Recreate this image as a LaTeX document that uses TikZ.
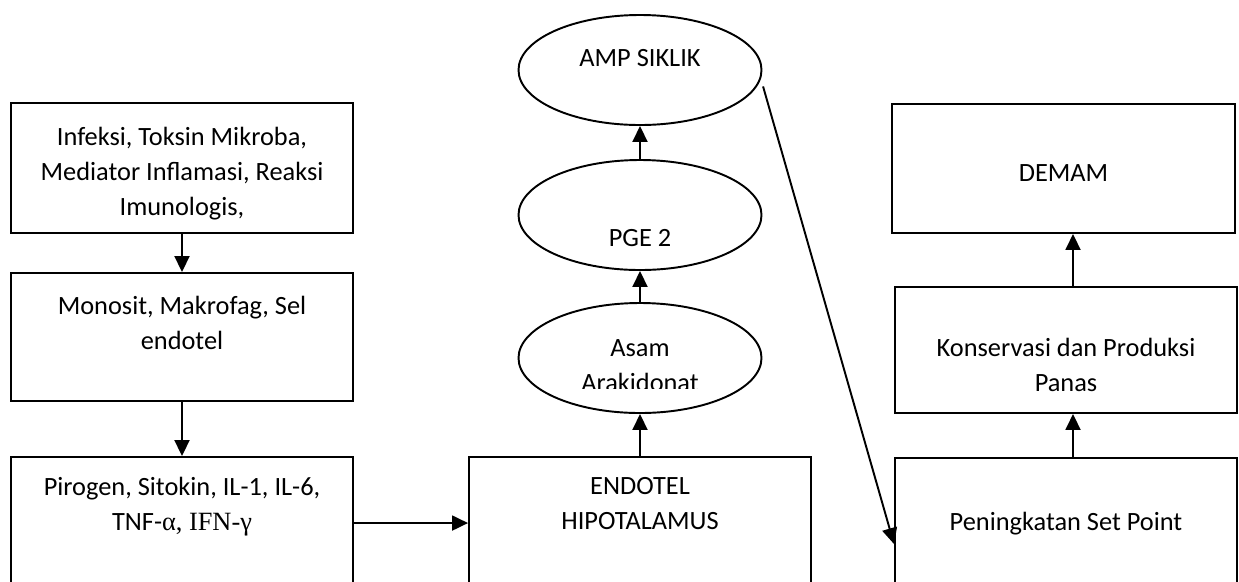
\documentclass[tikz,border=0pt]{standalone}
\usepackage{fontspec}
\setmainfont{Carlito}
\newfontfamily\greekserif{Liberation Serif}
\usetikzlibrary{arrows.meta,shapes.geometric}

\begin{document}
\begin{tikzpicture}[
        box/.style={draw, line width=1.1pt, inner sep=0pt, minimum width=6.84cm, align=center, font=\fontsize{15pt}{19.9pt}\selectfont},
        oval/.style={draw, ellipse, line width=1.1pt, inner sep=0pt, minimum width=4.86cm, minimum height=2.2cm, align=center, font=\fontsize{15pt}{19.9pt}\selectfont},
        flow/.style={-{Triangle[length=3.2mm, width=3mm]}, line width=1.1pt}
    ]
        \useasboundingbox (0,0) rectangle (24.78,-11.62);

        \node[box, text height=2.254cm, text depth=0.346cm] (infeksi) at (3.64,-3.36) {Infeksi, Toksin Mikroba,\\Mediator Inflamasi, Reaksi\\Imunologis,};
        \node[box, text height=1.534cm, text depth=1.026cm] (monosit) at (3.64,-6.74) {Monosit, Makrofag, Sel\\endotel};
        \node[box, text height=1.46cm, text depth=1.62cm] (pirogen) at (3.64,-10.68) {Pirogen, Sitokin, IL-1, IL-6,\\TNF-{\greekserif α, IFN-γ}};

        \node[box, text height=1.44cm, text depth=1.64cm] (endotel) at (12.8,-10.68) {ENDOTEL\\HIPOTALAMUS};
        \node[oval] (asam) at (12.8,-7.16) {};
        \node[oval, text height=1.3cm, text depth=0.06cm] (pge) at (12.8,-4.3) {PGE 2};
        \node[oval, text height=0.2cm, text depth=0.332cm] (amp) at (12.8,-1.4) {AMP SIKLIK};
        \begin{scope}
            \clip (10.4,-6.0) rectangle (15.2,-7.766);
            \node[box, draw=none, minimum width=0pt, anchor=base] (asamtext) at (12.8,-7.834) {Asam\\Arakidonat};
        \end{scope}

        \node[box, minimum width=6.86cm, text height=1.554cm, text depth=1.026cm] (demam) at (21.27,-3.37) {DEMAM};
        \node[box, text height=2.08cm, text depth=0.44cm] (konserv) at (21.32,-7.0) {Konservasi dan Produksi\\Panas};
        \node[box, text height=1.44cm, text depth=1.62cm] (pening) at (21.32,-10.69) {Peningkatan Set Point};

        \draw[flow] (infeksi.south) -- (monosit.north);
        \draw[flow] (monosit.south) -- (pirogen.north);
        \draw[flow] ([yshift=-1.34cm]pirogen.north east) -- ([yshift=-1.34cm]endotel.north west);
        \draw[flow] (endotel.north) -- (asam.south);
        \draw[flow] (asam.north) -- (pge.south);
        \draw[flow] (pge.north) -- (amp.south);
        \draw[flow] ([xshift=0.12cm]amp.-8) -- ([yshift=-1.74cm]pening.north west);
        \draw[flow] ([xshift=0.14cm]pening.north) -- ([xshift=0.14cm]konserv.south);
        \draw[flow] ([xshift=0.14cm]konserv.north) -- ([xshift=0.19cm]demam.south);
    \end{tikzpicture}
\end{document}
